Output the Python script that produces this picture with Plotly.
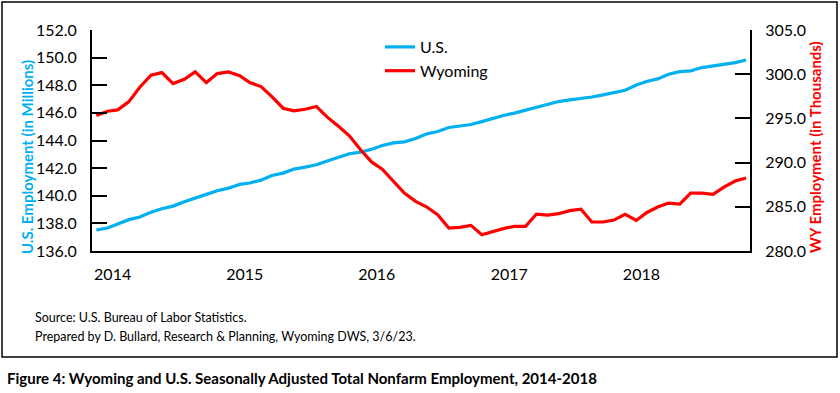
import plotly.graph_objects as go
import pandas as pd

months = pd.date_range("2014-01-01", periods=60, freq="MS")

us_emp = [137.52, 137.66, 137.95, 138.27, 138.46, 138.80, 139.06, 139.25, 139.57, 139.81, 140.10, 140.36,
          140.55, 140.82, 140.92, 141.13, 141.47, 141.64, 141.93, 142.07, 142.24, 142.51, 142.75, 143.04,
          143.16, 143.37, 143.64, 143.83, 143.90, 144.14, 144.47, 144.65, 144.94, 145.04, 145.16, 145.37,
          145.61, 145.83, 145.98, 146.19, 146.41, 146.63, 146.82, 146.94, 147.04, 147.15, 147.30, 147.47,
          147.64, 148.02, 148.27, 148.46, 148.80, 148.99, 149.04, 149.28, 149.40, 149.54, 149.64, 149.83]

wy_emp = [295.32, 295.81, 295.96, 296.90, 298.52, 299.88, 300.18, 298.94, 299.43, 300.26, 299.05, 300.07,
          300.26, 299.84, 299.05, 298.60, 297.47, 296.15, 295.85, 296.04, 296.34, 295.14, 294.12, 293.03,
          291.45, 290.05, 289.26, 287.87, 286.55, 285.61, 285.00, 284.10, 282.60, 282.67, 282.90, 281.84,
          282.22, 282.56, 282.79, 282.79, 284.18, 284.07, 284.22, 284.56, 284.74, 283.28, 283.28, 283.50,
          284.14, 283.46, 284.33, 284.97, 285.42, 285.31, 286.55, 286.55, 286.40, 287.23, 287.91, 288.25]

year_ticks = ["2014-02-15", "2015-02-15", "2016-02-15", "2017-02-15", "2018-02-15"]
year_labels = ["2014", "2015", "2016", "2017", "2018"]

left_ticks = [136, 138, 140, 142, 144, 146, 148, 150, 152]
right_ticks = [280, 285, 290, 295, 300, 305]

BLUE = "#00B0F0"
RED = "#FF0000"
FONT = "Lato"

fig = go.Figure()
fig.add_trace(go.Scatter(x=months, y=us_emp, name="U.S.", mode="lines",
                         line=dict(color=BLUE, width=3.2), yaxis="y"))
fig.add_trace(go.Scatter(x=months, y=wy_emp, name="Wyoming", mode="lines",
                         line=dict(color=RED, width=3.2), yaxis="y2"))

W, H = 840, 393
ml, mr, mt, mb = 92, 90, 30, 142
pw, ph = W - ml - mr, H - mt - mb


def px(x):
    return (x - ml) / pw


def py(y):
    return (H - mb - y) / ph


fig.update_layout(
    width=W, height=H,
    margin=dict(l=ml, r=mr, t=mt, b=mb, pad=0),
    paper_bgcolor="white", plot_bgcolor="white",
    font=dict(family=FONT, color="black", size=16),
    showlegend=True,
    legend=dict(x=px(380), y=py(30), xanchor="left", yanchor="top",
                bgcolor="rgba(0,0,0,0)", font=dict(size=16, family=FONT),
                tracegroupgap=0, itemwidth=30),
    xaxis=dict(type="date", range=["2013-12-20", "2018-12-12"],
               tickvals=year_ticks, ticktext=year_labels, ticks="",
               showgrid=False, zeroline=False, showline=True,
               linecolor="black", linewidth=2, mirror=False,
               tickfont=dict(size=16), ticklabelstandoff=8),
    yaxis=dict(range=[136, 152], tickvals=left_ticks,
               ticktext=[f"{v:.1f}" for v in left_ticks],
               ticks="inside", ticklen=15, tickwidth=2, tickcolor="black",
               showgrid=False, zeroline=False, showline=True,
               linecolor="black", linewidth=2,
               tickfont=dict(size=16), ticklabelstandoff=10),
    yaxis2=dict(range=[280, 305], tickvals=right_ticks,
                ticktext=[f"{v:.1f}" for v in right_ticks],
                overlaying="y", side="right",
                ticks="inside", ticklen=15, tickwidth=2, tickcolor="black",
                showgrid=False, zeroline=False, showline=True,
                linecolor="black", linewidth=2,
                tickfont=dict(size=16), ticklabelstandoff=10),
)

fig.add_shape(type="rect", xref="paper", yref="paper",
              x0=px(2), x1=px(837), y0=py(357), y1=py(2),
              line=dict(color="black", width=1.5), layer="below")

fig.add_annotation(text="<b>U.S. Employment (in Millions)</b>", xref="paper", yref="paper",
                   x=px(27), y=py(157), xanchor="center", yanchor="middle",
                   textangle=-90, showarrow=False,
                   font=dict(size=15, color=BLUE, family=FONT))
fig.add_annotation(text="<b>WY Employment (in Thousands)</b>", xref="paper", yref="paper",
                   x=px(815), y=py(147), xanchor="center", yanchor="middle",
                   textangle=-90, showarrow=False,
                   font=dict(size=15, color=RED, family=FONT))
fig.add_annotation(text="Source: U.S. Bureau of Labor Statistics.", xref="paper", yref="paper",
                   x=px(33), y=py(317), xanchor="left", yanchor="middle", showarrow=False,
                   font=dict(size=12.5, family=FONT))
fig.add_annotation(text="Prepared by D. Bullard, Research &amp; Planning, Wyoming DWS, 3/6/23.",
                   xref="paper", yref="paper",
                   x=px(33), y=py(336), xanchor="left", yanchor="middle", showarrow=False,
                   font=dict(size=12.5, family=FONT))
fig.add_annotation(text="<b>Figure 4: Wyoming and U.S. Seasonally Adjusted Total Nonfarm Employment, 2014-2018</b>",
                   xref="paper", yref="paper",
                   x=px(5), y=py(378), xanchor="left", yanchor="middle", showarrow=False,
                   font=dict(size=15, family=FONT))

fig.write_html("out.html", config={"displayModeBar": False},
               post_script="document.body.style.margin='0';document.body.style.overflow='hidden';")
